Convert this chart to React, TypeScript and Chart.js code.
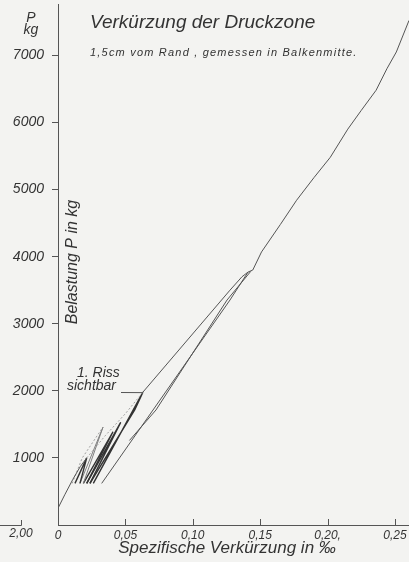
import React, { useEffect, useRef } from "react";
import { Chart, registerables } from "chart.js";

Chart.register(...registerables);

// ---- data (strain in ‰, load P in kg) ----
const xTickValues = [0, 0.05, 0.1, 0.15, 0.2, 0.25];
const xTickLabels = ["0", "0,05", "0,10", "0,15", "0,20,", "0,25"];
const yTickValues = [1000, 2000, 3000, 4000, 5000, 6000, 7000];
const yTickLabels = ["1000", "2000", "3000", "4000", "5000", "6000", "7000"];

const initX = [0, 0.005, 0.011, 0.0165, 0.0213];
const initP = [250, 450, 680, 870, 1000];

const faint1X = [0.0213, 0.035, 0.05, 0.063];
const faint1P = [1000, 1330, 1660, 1980];
const faint2X = [0.0105, 0.018, 0.0334];
const faint2P = [620, 1000, 1460];

const c1X = [0.0126, 0.0213, 0.0163];
const c1P = [620, 1000, 620];
const c2X = [0.0163, 0.0334, 0.0188];
const c2P = [620, 1460, 620];
const c3X = [0.0188, 0.0408, 0.0213];
const c3P = [620, 1390, 620];
const c4X = [0.0213, 0.0465, 0.0237];
const c4P = [620, 1530, 620];
const c5X = [0.0237, 0.057, 0.063, 0.0262];
const c5P = [620, 1720, 1980, 620];

const reloadX = [0.0324, 0.0705, 0.1276, 0.141];
const reloadP = [620, 1714, 3353, 3770];
const unloadX = [0.143, 0.1254, 0.0727, 0.053];
const unloadP = [3780, 3353, 1714, 1260];

const midX = [0.063, 0.1276, 0.1365, 0.141];
const midP = [1980, 3500, 3700, 3770];

const upperX = [0.141, 0.1445, 0.151, 0.165, 0.177, 0.19, 0.202, 0.215, 0.225, 0.236, 0.244, 0.251, 0.2604];
const upperP = [3770, 3800, 4070, 4480, 4840, 5180, 5480, 5900, 6180, 6480, 6800, 7050, 7520];

const zip = (xs: number[], ps: number[]) => xs.map((x, i) => ({ x, y: ps[i] }));

const FONT = '"Liberation Sans", Arial, sans-serif';
const BG = "#f3f3f1";
const INK = "#333333";
const LINE = "#555555";

const annotPlugin = {
  id: "annot",
  beforeDraw(chart: any) {
    const ctx = chart.ctx;
    ctx.save();
    ctx.fillStyle = BG;
    ctx.fillRect(0, 0, chart.width, chart.height);
    ctx.restore();
  },
  afterDraw(chart: any) {
    const ctx = chart.ctx;
    const xs = chart.scales.x;
    const ys = chart.scales.y;
    const area = chart.chartArea;
    ctx.save();
    ctx.fillStyle = INK;
    ctx.strokeStyle = LINE;
    ctx.lineWidth = 1;

    // inner x ticks
    xTickValues.slice(1).forEach((v) => {
      const px = Math.round(xs.getPixelForValue(v)) + 0.5;
      ctx.beginPath();
      ctx.moveTo(px, area.bottom);
      ctx.lineTo(px, area.bottom - 6);
      ctx.stroke();
    });

    // separate "2,00" mark at the far left
    ctx.beginPath();
    ctx.moveTo(0, area.bottom + 0.5);
    ctx.lineTo(21.5, area.bottom + 0.5);
    ctx.lineTo(21.5, area.bottom - 5);
    ctx.stroke();
    ctx.font = `italic 12px ${FONT}`;
    ctx.textAlign = "center";
    ctx.textBaseline = "top";
    ctx.fillText("2,00", 21, area.bottom + 3);

    // titles
    ctx.textBaseline = "alphabetic";
    ctx.textAlign = "left";
    ctx.font = `italic 19px ${FONT}`;
    ctx.fillText("Verkürzung der Druckzone", 90, 28);
    ctx.font = `italic 11px ${FONT}`;
    (ctx as any).letterSpacing = "1.2px";
    ctx.fillText("1,5cm vom Rand , gemessen in Balkenmitte.", 90, 56);
    (ctx as any).letterSpacing = "0px";

    // unit label
    ctx.textAlign = "center";
    ctx.font = `italic 14px ${FONT}`;
    ctx.fillText("P", 31, 22);
    ctx.fillText("kg", 31, 34);

    // y axis title inside plot
    ctx.save();
    ctx.translate(77, 262);
    ctx.rotate(-Math.PI / 2);
    ctx.font = `italic 16px ${FONT}`;
    ctx.textAlign = "center";
    ctx.fillText("Belastung P in kg", 0, 0);
    ctx.restore();

    // x axis title
    ctx.font = `italic 17px ${FONT}`;
    ctx.textAlign = "center";
    ctx.fillText("Spezifische Verkürzung in ‰", 227, 553);

    // first crack annotation
    ctx.font = `italic 14px ${FONT}`;
    ctx.textAlign = "left";
    ctx.fillText("1. Riss", 77, 377);
    ctx.fillText("sichtbar", 67, 390);
    ctx.beginPath();
    ctx.moveTo(121, 392.5);
    ctx.lineTo(xs.getPixelForValue(0.063), ys.getPixelForValue(1980) + 0.5);
    ctx.stroke();

    ctx.restore();
  },
};

export default function App() {
  const ref = useRef<HTMLCanvasElement | null>(null);

  useEffect(() => {
    document.body.style.margin = "0";
    document.body.style.background = BG;
    if (!ref.current) return;

    const thin = (data: any, extra: any = {}) => ({
      data,
      showLine: true,
      pointRadius: 0,
      borderColor: LINE,
      borderWidth: 1,
      fill: false,
      ...extra,
    });
    const bold = { borderColor: "#333333", borderWidth: 1.4 };
    const faint = { borderColor: "#a0a0a0", borderWidth: 1, borderDash: [2, 2] };

    const chart = new Chart(ref.current, {
      type: "scatter",
      data: {
        datasets: [
          thin(zip(initX, initP)),
          thin(zip(faint1X, faint1P), faint),
          thin(zip(faint2X, faint2P), faint),
          thin(zip(c1X, c1P), bold),
          thin(zip(c2X, c2P), { borderColor: "#808080" }),
          thin(zip(c3X, c3P), bold),
          thin(zip(c4X, c4P), bold),
          thin(zip(c5X, c5P), bold),
          thin(zip(reloadX, reloadP)),
          thin(zip(unloadX, unloadP)),
          thin(zip(midX, midP)),
          thin(zip(upperX, upperP)),
        ],
      },
      options: {
        responsive: false,
        animation: false,
        devicePixelRatio: 1,
        layout: { padding: { top: 4, right: 0, left: 0, bottom: 0 } },
        plugins: {
          legend: { display: false },
          tooltip: { enabled: false },
          title: { display: false },
        },
        scales: {
          x: {
            type: "linear",
            min: 0,
            max: 0.2604,
            afterBuildTicks: (scale: any) => {
              scale.ticks = xTickValues.map((v) => ({ value: v }));
            },
            afterFit: (scale: any) => {
              scale.height = 37;
              scale.paddingLeft = 0;
              scale.paddingRight = 0;
            },
            ticks: {
              autoSkip: false,
              maxRotation: 0,
              padding: 3,
              color: INK,
              font: { family: FONT, size: 12, style: "italic" },
              callback: (v: any) => {
                const i = xTickValues.findIndex((t) => Math.abs(t - v) < 1e-9);
                return i >= 0 ? xTickLabels[i] : "";
              },
            },
            grid: { display: true, drawOnChartArea: false, drawTicks: false },
            border: { display: true, color: LINE, width: 1 },
          },
          y: {
            type: "linear",
            min: 0,
            max: 7765,
            afterBuildTicks: (scale: any) => {
              scale.ticks = yTickValues.map((v) => ({ value: v }));
            },
            afterFit: (scale: any) => {
              scale.width = 58;
              scale.paddingTop = 0;
              scale.paddingBottom = 0;
            },
            ticks: {
              autoSkip: false,
              padding: 8,
              color: INK,
              font: { family: FONT, size: 14, style: "italic" },
              callback: (v: any) => {
                const i = yTickValues.indexOf(v);
                return i >= 0 ? yTickLabels[i] : "";
              },
            },
            grid: { display: true, drawOnChartArea: false, drawTicks: true, tickLength: 6, color: LINE },
            border: { display: true, color: LINE, width: 1 },
          },
        },
      },
      plugins: [annotPlugin],
    } as any);

    return () => chart.destroy();
  }, []);

  return (
    <div style={{ width: 409, height: 562 }}>
      <canvas ref={ref} width={409} height={562} style={{ display: "block", width: 409, height: 562 }} />
    </div>
  );
}
